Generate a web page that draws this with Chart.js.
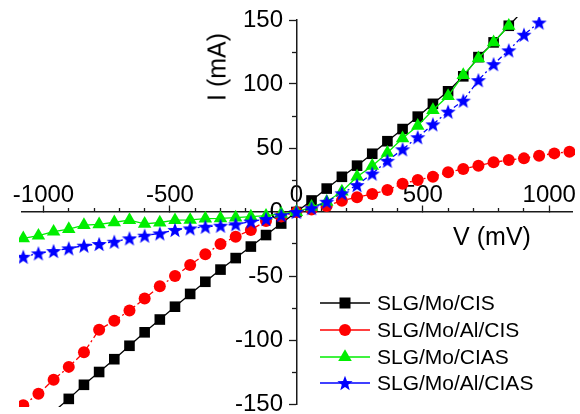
<!DOCTYPE html>
<html lang="en">
<head>
  <meta charset="UTF-8" />
  <title>I-V curves</title>
  <script src="https://cdn.jsdelivr.net/npm/chart.js@4"></script>
  <style>
    body {
      margin: 0;
      background: #fff;
      font-family: "Liberation Sans", Arial, sans-serif;
    }
    #wrap {
      position: relative;
      width: 580px;
      height: 414px;
    }
    .axis-title {
      position: absolute;
      font-size: 25px;
      line-height: 1;
      color: #000;
      white-space: nowrap;
    }
    #yTitle { left: 217px; top: 67px; transform: translate(-50%, -50%) rotate(-90deg); }
    #xTitle { left: 492px; top: 236px; transform: translate(-50%, -50%); }

    /* legend sits inside the plot, lower right */
    #legend {
      position: absolute;
      left: 318px;
      top: 290px;
    }
    .row {
      display: flex;
      align-items: center;
      height: 26.7px;
      font-size: 21px;
      color: #000;
      white-space: nowrap;
    }
    .row canvas { width: 54px; height: 20px; margin-right: 5px; }
  </style>
</head>
<body>

<div id="wrap">
  <canvas id="ivChart"></canvas>
  <div class="axis-title" id="yTitle">I (mA)</div>
  <div class="axis-title" id="xTitle">V (mV)</div>
  <div id="legend"></div>
</div>

<script>
  // ==== DATA (voltage in mV, current in mA) ====
  const cisV = [-960, -900, -840, -780, -720, -660, -600, -540, -480, -420, -360, -300, -240, -180, -120, -60,
                0, 60, 120, 180, 240, 300, 360, 420, 480, 540, 600, 660, 720, 780, 840, 900];
  const cisI = [-156, -146, -135, -125, -115, -104.5, -94, -84, -74, -64, -54.5, -45, -36, -27, -18, -9,
                0, 9, 18.3, 27.5, 36.2, 45.5, 55.3, 64.8, 74.5, 84.5, 94.3, 106, 121, 132.5, 145.5, 158];

  const alCisV = [-1080, -1020, -960, -900, -840, -780, -720, -660, -600, -540, -480, -420, -360, -300, -240, -180, -120, -60,
                  0, 60, 120, 180, 240, 300, 360, 420, 480, 540, 600, 660, 720, 780, 840, 900, 960, 1020, 1080];
  const alCisI = [-151, -142, -131, -121, -109.6, -92, -85, -77, -67.5, -58, -50, -41.4, -33, -25, -19.3, -14, -7, -3.5,
                  0, 2, 4.7, 8.8, 11.5, 14, 17.2, 22, 25, 27.6, 31, 33.6, 36.2, 38.8, 40.6, 41.9, 44, 45.8, 47];

  const ciasV = [-1080, -1020, -960, -900, -840, -780, -720, -660, -600, -540, -480, -420, -360, -300, -240, -180, -120, -60,
                 0, 60, 120, 180, 240, 300, 360, 420, 480, 540, 600, 660, 720, 780, 840];
  const ciasI = [-20.6, -18.5, -15.4, -13.3, -10.2, -9.6, -8, -6.3, -9.3, -8.2, -6.4, -6.2, -5.2, -5, -4.4, -3.6, -2.9, -1.5,
                 0, 4, 8, 16, 27.6, 36, 46.3, 57.6, 67.4, 79.7, 90.6, 107, 120, 132.5, 145.5];

  const alCiasV = [-1080, -1020, -960, -900, -840, -780, -720, -660, -600, -540, -480, -420, -360, -300, -240, -180, -120, -60,
                   0, 60, 120, 180, 240, 300, 360, 420, 480, 540, 600, 660, 720, 780, 840, 900, 960];
  const alCiasI = [-35, -32.3, -30.5, -28.4, -26.3, -25, -23.2, -20.6, -18.5, -16.7, -14, -12.8, -11.5, -10.7, -9.6, -7.5, -5.5, -2.5,
                   0, 3, 8, 14.6, 21, 30, 40, 49, 58.4, 68.5, 78.4, 87, 103, 115.5, 126.3, 138.5, 148];

  const seriesNames = ['SLG/Mo/CIS', 'SLG/Mo/Al/CIS', 'SLG/Mo/CIAS', 'SLG/Mo/Al/CIAS'];

  // tick values
  const xMajorTicks = [-1000, -500, 0, 500, 1000];
  const xMinorTicks = [-900, -800, -700, -600, -400, -300, -200, -100, 100, 200, 300, 400, 600, 700, 800, 900];
  const yMajorTicks = [-150, -100, -50, 0, 50, 100, 150];
  const yMinorTicks = [-125, -75, -25, 25, 75, 125];

  const axisColor = '#1a1a1a';

  // ==== HELPERS ====
  function toPoints(xs, ys) {
    return xs.map((v, i) => ({ x: v, y: ys[i] }));
  }

  // filled five point star, used as point style
  function makeStar(r, color) {
    const c = document.createElement('canvas');
    const s = Math.ceil(r * 2) + 2;
    c.width = s;
    c.height = s;
    const g = c.getContext('2d');
    g.fillStyle = color;
    g.beginPath();
    for (let i = 0; i < 10; i++) {
      const rad = i % 2 === 0 ? r : r * 0.42;
      const a = -Math.PI / 2 + i * Math.PI / 5;
      const px = s / 2 + rad * Math.cos(a);
      const py = s / 2 + rad * Math.sin(a) + 0.7;
      if (i === 0) g.moveTo(px, py); else g.lineTo(px, py);
    }
    g.closePath();
    g.fill();
    return c;
  }

  const starImg = makeStar(8, '#0000ff');

  const styles = [
    { color: '#000000', pointStyle: 'rect', radius: 7.5, dash: [] },
    { color: '#ff0000', pointStyle: 'circle', radius: 6, dash: [6, 3, 2, 3] },
    { color: '#00ee00', pointStyle: 'triangle', radius: 7.8, dash: [] },
    { color: '#0000ff', pointStyle: starImg, radius: 8, dash: [5, 3, 2, 3] }
  ];

  const seriesData = [
    toPoints(cisV, cisI),
    toPoints(alCisV, alCisI),
    toPoints(ciasV, ciasI),
    toPoints(alCiasV, alCiasI)
  ];

  const datasets = seriesData.map((pts, i) => ({
    label: seriesNames[i],
    data: pts,
    borderColor: styles[i].color,
    backgroundColor: styles[i].color,
    borderWidth: 1.3,
    borderDash: styles[i].dash,
    pointStyle: styles[i].pointStyle,
    pointRadius: styles[i].radius,
    pointBackgroundColor: styles[i].color,
    pointBorderWidth: 0,
    tension: 0,
    clip: 3,
    order: 4 - i   // last series on top
  }));

  // axis labels must not push the plot area in, it spans the whole picture
  function noPadding(ax) {
    ax.paddingTop = 0;
    ax.paddingBottom = 0;
    ax.paddingLeft = 0;
    ax.paddingRight = 0;
  }

  function tickAxis(axis, ticks, len, showLabels, extra) {
    return Object.assign({
      type: 'linear',
      axis: axis,
      afterBuildTicks: ax => { ax.ticks = ticks.map(v => ({ value: v })); },
      afterFit: noPadding,
      grid: { drawOnChartArea: false, drawTicks: true, tickLength: len, tickColor: axisColor, tickWidth: 1.3 },
      border: { display: showLabels, color: axisColor, width: 1.5 },
      ticks: {
        display: showLabels,
        autoSkip: false,
        maxRotation: 0,
        color: '#000',
        font: { size: 24, family: '"Liberation Sans", Arial, sans-serif' }
      }
    }, extra);
  }

  const xRange = { min: -1085, max: 1090, position: { y: 0 } };
  const yRange = { min: -150, max: 150, position: { x: 0 } };

  const xScale = tickAxis('x', xMajorTicks, -7, true, xRange);
  xScale.ticks.padding = -24;
  xScale.ticks.callback = v => String(v);

  const yScale = tickAxis('y', yMajorTicks, 7, true, yRange);
  // labels are right-aligned on the axis line, trailing spaces give the gap
  yScale.ticks.callback = v => String(v) + '  ';

  const xMinor = tickAxis('x', xMinorTicks, -4, false, xRange);
  const yMinor = tickAxis('y', yMinorTicks, 4, false, yRange);

  new Chart(document.getElementById('ivChart'), {
    type: 'line',
    data: { datasets: datasets },
    options: {
      responsive: true,
      maintainAspectRatio: false,
      animation: false,
      layout: { padding: { left: 22, right: 5, top: 20, bottom: 10 } },
      plugins: {
        legend: { display: false },
        tooltip: { enabled: false }
      },
      scales: {
        x: xScale,
        y: yScale,
        x2: xMinor,
        y2: yMinor
      }
    }
  });

  // ==== LEGEND (line + marker sample, then name) ====
  const legend = document.getElementById('legend');
  styles.forEach((st, i) => {
    const row = document.createElement('div');
    row.className = 'row';
    const c = document.createElement('canvas');
    c.width = 54;
    c.height = 20;
    const g = c.getContext('2d');
    g.strokeStyle = st.color;
    g.lineWidth = 1.5;
    g.beginPath();
    g.moveTo(2, 10);
    g.lineTo(52, 10);
    g.stroke();
    g.fillStyle = st.color;
    if (st.pointStyle === 'rect') {
      g.fillRect(27 - 5.5, 10 - 5.5, 11, 11);
    } else if (st.pointStyle === 'circle') {
      g.beginPath(); g.arc(27, 10, 6, 0, Math.PI * 2); g.fill();
    } else if (st.pointStyle === 'triangle') {
      g.beginPath();
      g.moveTo(27, 10 - 7.8);
      g.lineTo(27 + 6.8, 10 + 3.9);
      g.lineTo(27 - 6.8, 10 + 3.9);
      g.closePath();
      g.fill();
    } else {
      g.drawImage(starImg, 27 - starImg.width / 2, 10 - starImg.height / 2);
    }
    const label = document.createElement('span');
    label.textContent = seriesNames[i];
    row.appendChild(c);
    row.appendChild(label);
    legend.appendChild(row);
  });
</script>

</body>
</html>
